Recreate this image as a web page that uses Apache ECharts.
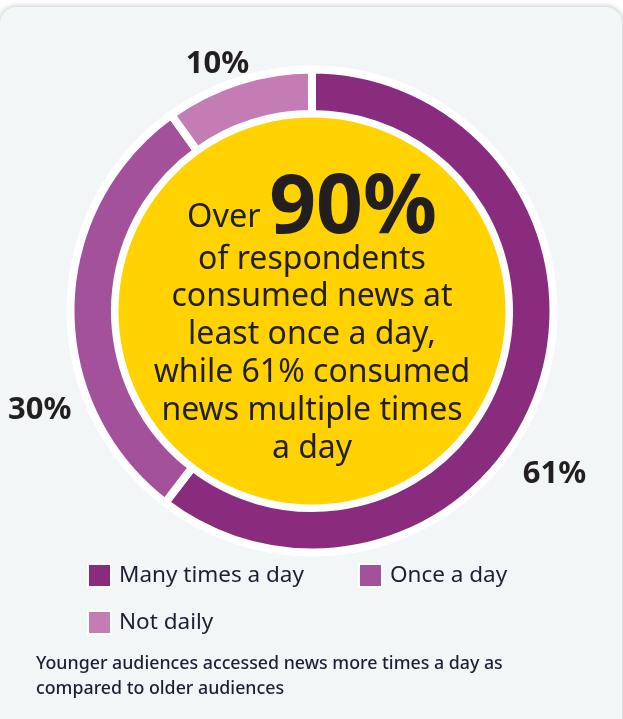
<!DOCTYPE html>
<html>
<head>
<meta charset="utf-8">
<script src="https://cdn.jsdelivr.net/npm/echarts@6/dist/echarts.min.js"></script>
<style>
  html, body { margin: 0; padding: 0; background: #ffffff; width: 623px; height: 719px; overflow: hidden; }
  #card { position: absolute; left: 0; top: 7px; width: 622px; height: 740px; background: #F2F6F7; border-radius: 16px; box-shadow: 0 0 6px rgba(0,0,0,0.28); }
  #chart { position: absolute; left: 0; top: 0; width: 623px; height: 719px; }
</style>
</head>
<body>
<div id="card"></div>
<div id="chart"></div>
<script>
const categories = ['Many times a day', 'Once a day', 'Not daily'];
const values = [61, 30, 10];
const colors = ['#8A2C7E', '#A3519B', '#C47DB4'];
const labelOffsets = [[-23, 86], [6, 103], [16, -17]];
const centerLines = ['Over ', '90%', 'of respondents', 'consumed news at', 'least once a day,', 'while 61% consumed', 'news multiple times', 'a day'];
const footnote = 'Younger audiences accessed news more times a day as\ncompared to older audiences';

const FONT = '"Noto Sans", sans-serif';
const chart = echarts.init(document.getElementById('chart'), null, { renderer: 'canvas' });

const ringData = categories.map((c, i) => ({
  name: c,
  value: values[i],
  itemStyle: { color: colors[i] },
  label: { offset: labelOffsets[i] }
}));

const centerText = '{a|' + centerLines[0] + '}{b|' + centerLines[1] + '}\n' +
  centerLines.slice(2).map(l => '{c|' + l + '}').join('\n');

chart.setOption({
  backgroundColor: 'transparent',
  animation: false,
  title: {
    text: footnote,
    left: 31, top: 646,
    textStyle: { fontFamily: FONT, fontSize: 17.8, fontWeight: 500, color: '#1C2132', lineHeight: 25 }
  },
  legend: [
    {
      data: categories.slice(0, 2),
      left: 82, top: 558, orient: 'horizontal',
      icon: 'rect', itemWidth: 23, itemHeight: 23, itemGap: 54,
      textStyle: { fontFamily: FONT, fontSize: 22.5, color: '#1C2132', padding: [0, 0, 0, 3] }
    },
    {
      data: categories.slice(2),
      left: 82, top: 605, orient: 'horizontal',
      icon: 'rect', itemWidth: 23, itemHeight: 23,
      textStyle: { fontFamily: FONT, fontSize: 22.5, color: '#1C2132', padding: [0, 0, 0, 3] }
    }
  ],
  series: [
    {
      type: 'pie', silent: true, center: [312, 311], radius: [0, 245],
      data: [{ value: 1, name: '_bg', itemStyle: { color: '#ffffff' } }],
      label: { show: false }, labelLine: { show: false }
    },
    {
      type: 'pie', silent: true, center: [312, 311], radius: [197, 241.5],
      startAngle: 90, clockwise: true, avoidLabelOverlap: false,
      data: ringData,
      itemStyle: { borderColor: '#ffffff', borderWidth: 8 },
      label: {
        show: true, position: 'outside', formatter: '{c}%',
        fontFamily: FONT, fontSize: 31, fontWeight: 'bold', color: '#231F20'
      },
      labelLine: { show: false, length: 0, length2: 0 }
    },
    {
      type: 'pie', silent: true, center: [312, 311], radius: [0, 193.5],
      data: [{ value: 1, name: '_center', itemStyle: { color: '#FFD200' } }],
      labelLine: { show: false },
      label: {
        show: true, position: 'center', offset: [0, 12],
        formatter: centerText,
        rich: {
          a: { fontFamily: FONT, fontSize: 32.5, color: '#231F20', lineHeight: 62, verticalAlign: 'bottom', padding: [0, 0, 6, 0] },
          b: { fontFamily: FONT, fontSize: 82, fontWeight: 'bold', color: '#231F20', lineHeight: 62 },
          c: { fontFamily: FONT, fontSize: 32, color: '#231F20', lineHeight: 37.8 }
        }
      }
    }
  ]
});
</script>
</body>
</html>
